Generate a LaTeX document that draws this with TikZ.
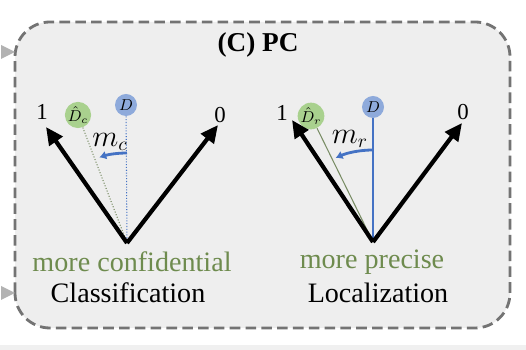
\documentclass[tikz,border=0pt]{standalone}
\usepackage{fontspec}
\setmainfont{Liberation Serif}
\usetikzlibrary{arrows.meta,positioning}

\begin{document}
\begin{tikzpicture}[x=0.02cm, y=0.02cm]
  % Colours
  \definecolor{cPanel}{RGB}{238, 238, 238}
  \definecolor{cFrame}{RGB}{115, 115, 115}
  \definecolor{cBlue}{RGB}{68, 114, 196}
  \definecolor{cBlueFill}{RGB}{142, 170, 219}
  \definecolor{cGreenFill}{RGB}{169, 209, 142}
  \definecolor{cGreenText}{RGB}{110, 139, 78}
  \definecolor{cGreenLine}{RGB}{120, 140, 100}

  \tikzset{
    axis/.style={line width=2.4pt, -{Triangle[length=10pt, width=9pt]}},
    ball/.style={circle, inner sep=0pt, minimum size=0.44cm, font=\small},
    lbl/.style={font=\rmfamily\fontsize{16}{18}\selectfont},
    tick/.style={inner sep=1pt, font=\rmfamily\fontsize{13}{15}\selectfont},
    marc/.style={cBlue, line width=1.6pt, -{Latex[length=4pt, width=5pt]}},
    inlet/.style={fill=gray!60, draw=none}
  }

  % Canvas and frame
  \useasboundingbox (0,0) rectangle (526,350);
  \fill[white] (0,0) rectangle (526,350);
  \fill[gray!12] (0,0) rectangle (526,5);
  \draw[rounded corners=0.7cm, fill=cPanel, draw=cFrame, line width=1.6pt,
        dash pattern=on 6pt off 3pt] (15,22) rectangle (510,328);

  % Incoming arrow heads on the left edge
  \fill[inlet] (1,305) -- (15,298) -- (1,291) -- cycle;
  \fill[inlet] (1,64) -- (15,57) -- (1,50) -- cycle;

  % Title
  \node[font=\rmfamily\bfseries\fontsize{15.5}{18}\selectfont] (title) at (258,305) {(C) PC};

  % ---- Classification ----
  \coordinate (v1) at (127,107);
  \coordinate (one1) at (46,223);
  \coordinate (zero1) at (218,225);
  \node[ball, fill=cBlueFill] (d1) at (126,245) {$D$};
  \node[ball, fill=cGreenFill] (dh1) at (78,235) {$\hat{D}_c$};
  \draw[cBlue, densely dotted, line width=0.6pt] (d1) -- (v1);
  \draw[cGreenLine, densely dotted, line width=0.6pt] (dh1) -- (v1);
  \draw[axis] (v1) -- (one1);
  \draw[axis] (v1) -- (zero1);
  \node[tick] (n1) at (42,238) {1};
  \node[tick] (z1) at (220,235) {0};
  \draw[marc] ([shift={(90:90)}]v1) arc[start angle=90, end angle=108, radius=90];
  \node[lbl] (mc) at (110,208) {$m_c$};
  \node[lbl, cGreenText] (conf) at (132,88) {more confidential};
  \node[lbl] (cls) at (128,57) {Classification};

  % ---- Localization ----
  \coordinate (v2) at (373,108);
  \coordinate (one2) at (292,230);
  \coordinate (zero2) at (462,227);
  \node[ball, fill=cBlueFill] (d2) at (373,243) {$D$};
  \node[ball, fill=cGreenFill] (dh2) at (311,234) {$\hat{D}_r$};
  \draw[cBlue, line width=0.7pt] (d2) -- (v2);
  \draw[cGreenLine, line width=0.6pt] (dh2) -- (v2);
  \draw[axis] (v2) -- (one2);
  \draw[axis] (v2) -- (zero2);
  \node[tick] (n2) at (282,237) {1};
  \node[tick] (z2) at (463,238) {0};
  \draw[marc] ([shift={(90:92)}]v2) arc[start angle=90, end angle=114, radius=92];
  \node[lbl] (mr) at (350,211) {$m_r$};
  \node[lbl, cGreenText] (prec) at (372,88) {more precise};
  \node[lbl] (loc) at (378,57) {Localization};

\end{tikzpicture}
\end{document}
